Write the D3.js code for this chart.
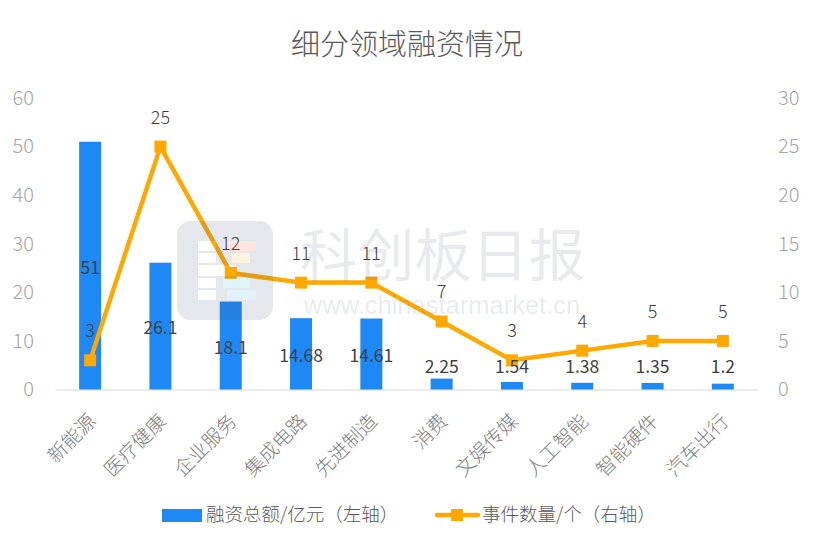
<!DOCTYPE html>
<html>
<head>
<meta charset="utf-8">
<script src="https://cdn.jsdelivr.net/npm/d3@7"></script>
<style>
  html, body { margin: 0; padding: 0; background: #fff; }
  svg { display: block; }
  text { font-family: "Noto Sans CJK SC", "Noto Sans", sans-serif; font-weight: 300; }
</style>
</head>
<body>
<svg id="chart" width="814" height="550"></svg>
<script>
// Chart data
const categories = ['新能源', '医疗健康', '企业服务', '集成电路', '先进制造', '消费', '文娱传媒', '人工智能', '智能硬件', '汽车出行'];
const amounts = [51, 26.1, 18.1, 14.68, 14.61, 2.25, 1.54, 1.38, 1.35, 1.2];
const events = [3, 25, 12, 11, 11, 7, 3, 4, 5, 5];
const leftTicks = [0, 10, 20, 30, 40, 50, 60];
const rightTicks = [0, 5, 10, 15, 20, 25, 30];

const chartTitle = '细分领域融资情况';
const barLegend = '融资总额/亿元（左轴）';
const lineLegend = '事件数量/个（右轴）';

const margin = { top: 98, right: 56, bottom: 160.5, left: 55 };
const width = 814;
const height = 550;
const barColor = '#1e88f5';
const lineColor = '#ffa800';
const tickColor = '#a6a6a6';
const labelColor = '#404040';

const svg = d3.select('#chart');

const x = d3.scaleBand()
    .domain(categories)
    .range([margin.left, width - margin.right]);

const yLeft = d3.scaleLinear()
    .domain([0, 60])
    .range([height - margin.bottom, margin.top]);

const yRight = d3.scaleLinear()
    .domain([0, 30])
    .range([height - margin.bottom, margin.top]);

const xMid = d => x(d) + x.bandwidth() / 2;
const baseY = yLeft(0);

// Title
svg.append('text')
    .attr('x', 407)
    .attr('y', 55)
    .attr('text-anchor', 'middle')
    .style('font-size', '29px')
    .style('fill', '#595959')
    .text(chartTitle);

// Axes
const leftAxis = svg.append('g')
    .attr('transform', `translate(${margin.left},0)`)
    .call(d3.axisLeft(yLeft).tickValues(leftTicks).tickSize(0).tickPadding(21));

const rightAxis = svg.append('g')
    .attr('transform', `translate(${width - margin.right},0)`)
    .call(d3.axisRight(yRight).tickValues(rightTicks).tickSize(0).tickPadding(20));

[leftAxis, rightAxis].forEach(axis => {
    axis.select('.domain').remove();
    axis.selectAll('text')
        .style('font-size', '20px')
        .style('font-family', '"Noto Sans CJK SC", sans-serif')
        .style('fill', tickColor);
});

const bottomAxis = svg.append('g')
    .attr('transform', `translate(0,${baseY})`)
    .call(d3.axisBottom(x).tickSize(0).tickSizeOuter(0).tickFormat(''));

bottomAxis.select('.domain')
    .attr('stroke', '#d9d9d9')
    .attr('stroke-width', 1);

// Rotated category labels, the end of the text sits under the bar
svg.selectAll('.cat-label')
    .data(categories)
    .join('text')
    .attr('class', 'cat-label')
    .attr('text-anchor', 'end')
    .attr('transform', d => `translate(${xMid(d) + 7},${baseY + 33}) rotate(-45)`)
    .style('font-size', '19.5px')
    .style('fill', '#7f7f7f')
    .text(d => d);

// Bars
svg.selectAll('.bar')
    .data(amounts)
    .join('rect')
    .attr('class', 'bar')
    .attr('x', (d, i) => xMid(categories[i]) - 11)
    .attr('y', d => yLeft(d))
    .attr('width', 22)
    .attr('height', d => baseY - yLeft(d))
    .attr('fill', barColor);

// Line
const line = d3.line()
    .x((d, i) => xMid(categories[i]))
    .y(d => yRight(d));

svg.append('path')
    .datum(events)
    .attr('d', line)
    .attr('fill', 'none')
    .attr('stroke', lineColor)
    .attr('stroke-width', 4.5)
    .attr('stroke-linejoin', 'round');

svg.selectAll('.marker')
    .data(events)
    .join('rect')
    .attr('class', 'marker')
    .attr('x', (d, i) => xMid(categories[i]) - 6)
    .attr('y', d => yRight(d) - 6)
    .attr('width', 12)
    .attr('height', 12)
    .attr('fill', lineColor);

// Legend
svg.append('rect')
    .attr('x', 162)
    .attr('y', 509)
    .attr('width', 40)
    .attr('height', 13)
    .attr('fill', barColor);

svg.append('text')
    .attr('x', 206)
    .attr('y', 521)
    .style('font-size', '18.5px')
    .style('fill', '#595959')
    .text(barLegend);

svg.append('line')
    .attr('x1', 437)
    .attr('x2', 478)
    .attr('y1', 515)
    .attr('y2', 515)
    .attr('stroke', lineColor)
    .attr('stroke-width', 4.5)
    .attr('stroke-linecap', 'round');

svg.append('rect')
    .attr('x', 451)
    .attr('y', 509)
    .attr('width', 12)
    .attr('height', 12)
    .attr('fill', lineColor);

svg.append('text')
    .attr('x', 482)
    .attr('y', 521)
    .style('font-size', '18.5px')
    .style('fill', '#595959')
    .text(lineLegend);

// Watermark on top of the marks, the logo's white cells are holes in its plate
const mark = svg.append('g').attr('class', 'watermark');
const plate = d3.path();
plate.moveTo(191, 221);
plate.lineTo(259, 221);
plate.arcTo(273, 221, 273, 235, 14);
plate.lineTo(273, 306);
plate.arcTo(273, 320, 259, 320, 14);
plate.lineTo(191, 320);
plate.arcTo(177, 320, 177, 306, 14);
plate.lineTo(177, 235);
plate.arcTo(177, 221, 191, 221, 14);
plate.closePath();
[[198, 241, 18, 10], [198, 253, 18, 10], [198, 265, 38, 11], [198, 278, 18, 10], [198, 290, 18, 10],
 [227, 241, 29, 10], [232, 253, 18, 10], [223, 278, 27, 10], [227, 290, 29, 10]].forEach(c => {
    plate.rect(c[0], c[1], c[2], c[3]);
});

mark.append('path')
    .attr('d', plate.toString())
    .attr('fill-rule', 'evenodd')
    .attr('fill', '#4a5f78')
    .attr('fill-opacity', 0.15);

[[227, 241, 29, 10, '#ff5a3c'], [232, 253, 18, 10, '#ffb040'], [223, 278, 27, 10, '#40c0ee'], [227, 290, 29, 10, '#50a8f0']].forEach(c => {
    mark.append('rect')
        .attr('x', c[0]).attr('y', c[1])
        .attr('width', c[2]).attr('height', c[3])
        .attr('fill', c[4])
        .attr('fill-opacity', 0.16);
});

mark.append('text')
    .attr('x', 443)
    .attr('y', 276)
    .attr('text-anchor', 'middle')
    .style('font-size', '57px')
    .style('font-weight', '400')
    .style('fill', '#4a5f78')
    .style('fill-opacity', 0.13)
    .text('科创板日报');

mark.append('text')
    .attr('x', 442)
    .attr('y', 314)
    .attr('text-anchor', 'middle')
    .style('font-family', '"Liberation Sans", sans-serif')
    .style('font-weight', '400')
    .style('font-size', '25.5px')
    .style('fill', '#4a5f78')
    .style('fill-opacity', 0.13)
    .text('www.chinastarmarket.cn');

// Value labels stay dark above the watermark
// Bar labels sit mid-bar, but never lower than the clamp above the axis
svg.selectAll('.bar-label')
    .data(amounts)
    .join('text')
    .attr('class', 'bar-label')
    .attr('x', (d, i) => xMid(categories[i]))
    .attr('y', d => Math.min(yLeft(d / 2) + 8, baseY - 17))
    .attr('text-anchor', 'middle')
    .style('font-size', '17.5px')
    .style('font-weight', '400')
    .style('fill', labelColor)
    .text(d => d);

svg.selectAll('.event-label')
    .data(events)
    .join('text')
    .attr('class', 'event-label')
    .attr('x', (d, i) => xMid(categories[i]))
    .attr('y', d => yRight(d) - 23)
    .attr('text-anchor', 'middle')
    .style('font-size', '18px')
    .style('fill', labelColor)
    .text(d => d);
</script>
</body>
</html>
